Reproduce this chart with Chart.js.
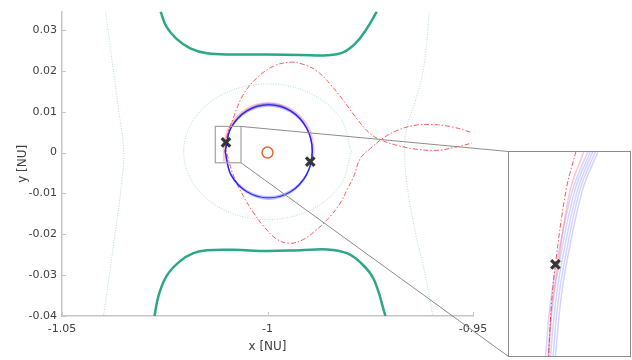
<!DOCTYPE html>
<html>
<head>
<meta charset="utf-8">
<script src="https://cdn.jsdelivr.net/npm/chart.js@4.4.1/dist/chart.umd.min.js"></script>
<style>
  html, body { margin: 0; padding: 0; background: #fff; }
  #wrap { position: relative; width: 632px; height: 360px; }
  #main { position: absolute; left: 0; top: 0; }
  #inset { position: absolute; left: 508px; top: 151px; }
</style>
</head>
<body>
<div id="wrap">
  <canvas id="main" width="632" height="360"></canvas>
  <canvas id="inset" width="123" height="206"></canvas>
</div>
<script>
// axes
const xTicks = [-1.05, -1, -0.95];
const xTickLabels = ['-1.05', '-1', '-0.95'];
const yTicks = [-0.04, -0.03, -0.02, -0.01, 0, 0.01, 0.02, 0.03];
const yTickLabels = ['-0.04', '-0.03', '-0.02', '-0.01', '0', '0.01', '0.02', '0.03'];

// zero velocity curves (thick green)
const zvcTopX = [-1.0260, -1.0246, -1.0222, -1.0188, -1.0147, -1.0083, -1.0001, -0.9920, -0.9855, -0.9816, -0.9786, -0.9760, -0.9734];
const zvcTopY = [0.0345, 0.0308, 0.0279, 0.0255, 0.0243, 0.0240, 0.0240, 0.0239, 0.0238, 0.0245, 0.0267, 0.0301, 0.0345];
const zvcBotX = [-1.0275, -1.0265, -1.0245, -1.0212, -1.0180, -1.0147, -1.0083, -1.0001, -0.9920, -0.9855, -0.9807, -0.9774, -0.9742, -0.9713];
const zvcBotY = [-0.0400, -0.0350, -0.0301, -0.0265, -0.0246, -0.0239, -0.0238, -0.0241, -0.0239, -0.0237, -0.0246, -0.0269, -0.0309, -0.0400];

// faint dotted curves
const dotLeftX = [-1.0394, -1.0378, -1.0362, -1.0350, -1.0354, -1.0375, -1.0399];
const dotLeftY = [0.0345, 0.0224, 0.0102, 0.0006, -0.0067, -0.0229, -0.0400];
const dotRightX = [-0.9606, -0.9620, -0.9640, -0.9661, -0.9666, -0.9661, -0.9640, -0.9616, -0.9598];
const dotRightY = [0.0345, 0.0207, 0.0127, 0.0062, 0.0006, -0.0075, -0.0196, -0.0301, -0.0400];
const ringX = [-0.9796, -0.9823, -0.9898, -1.0000, -1.0102, -1.0177, -1.0204, -1.0177, -1.0102, -1.0000, -0.9898, -0.9823, -0.9796];
const ringY = [0.0002, 0.0085, 0.0146, 0.0168, 0.0146, 0.0085, 0.0002, -0.0081, -0.0142, -0.0164, -0.0142, -0.0081, 0.0002];

// red transfer trajectory (dash-dot)
const redX = [-0.95066, -0.95472, -0.95959, -0.96445, -0.96849, -0.97175, -0.97499, -0.97742, -0.97905, -0.98066,
              -0.98229, -0.98472, -0.98796, -0.99122, -0.99445, -0.99769, -1.00095, -1.00338, -1.00582, -1.00783,
              -1.00922, -1.0101, -1.00825, -1.00582, -1.00255, -0.99852, -0.99445, -0.99122, -0.98796, -0.98472,
              -0.98148, -0.97822, -0.97499, -0.97255, -0.96849, -0.96363, -0.95876, -0.95472, -0.95024];
const redY = [0.00499, 0.0062, 0.00685, 0.00661, 0.0054, 0.00363, 0.00097, -0.00145, -0.00591, -0.00913,
              -0.01235, -0.01559, -0.01881, -0.02123, -0.0222, -0.02123, -0.01801, -0.01477, -0.01075, -0.00671,
              -0.00266, 0.0025, 0.00862, 0.01429, 0.0183, 0.02114, 0.02211, 0.02155, 0.01993, 0.01671,
              0.01266, 0.00823, 0.0046, 0.00315, 0.00177, 0.0008, 0.00056, 0.00121, 0.00232];

// light red arc over the orbit
const pinkX = [-1.0105, -1.0103, -1.0090, -1.0051, -0.9997, -0.9942, -0.9902, -0.9889, -0.9894];
const pinkY = [-0.0022, 0.0025, 0.0065, 0.0105, 0.0120, 0.0104, 0.0062, 0.0010, -0.0022];

// blue orbits
const orbitX = [-1.0103, -1.0089, -1.0050, -0.9997, -0.9944, -0.9905, -0.9891, -0.9905, -0.9944, -0.9997, -1.0050, -1.0089, -1.0103];
const orbitAY = [0.0003, -0.0054, -0.0096, -0.0111, -0.0096, -0.0054, 0.0003, 0.0060, 0.0102, 0.0117, 0.0102, 0.0060, 0.0003];
const orbitBY = [0.0003, -0.0056, -0.0098, -0.0114, -0.0098, -0.0056, 0.0003, 0.0062, 0.0104, 0.0120, 0.0104, 0.0062, 0.0003];
const orbitCY = [0.0003, -0.0053, -0.0093, -0.0108, -0.0093, -0.0053, 0.0003, 0.0059, 0.0099, 0.0114, 0.0099, 0.0059, 0.0003];

// body and patch points
const moonX = [-1.0];
const moonY = [0.0];
const markX = [-1.0101, -0.9896];
const markY = [0.0025, -0.0022];

// zoom window
const boxX = [-1.0127, -1.00645];
const boxY = [-0.0025, 0.0064];

// inset
const insetXLim = [-1.0128, -1.0066];
const insetYLim = [-0.0022, 0.0082];
const insetMarkX = [-1.01041];
const insetMarkY = [0.00248];
const insetRows = [0.0082, 0.00625, 0.00248, 0.00031, -0.0022];
const insetRedX = [-1.00937, -1.00987, -1.01041, -1.01062, -1.01076];
const insetPinkX = [-1.00896, -1.00966, -1.01028, -1.01060, -1.01074];
const insetBlue1X = [-1.00876, -1.00954, -1.01036, -1.01069, -1.01091];
const insetBlue2X = [-1.00863, -1.00942, -1.01023, -1.01056, -1.01079];
const insetBlue3X = [-1.00851, -1.00929, -1.01011, -1.01043, -1.01066];
const insetBlue4X = [-1.00838, -1.00917, -1.00998, -1.01031, -1.01053];
const insetBlue5X = [-1.00825, -1.00904, -1.00986, -1.01018, -1.01041];

const pts = (xs, ys) => xs.map((x, i) => ({x: x, y: ys[i]}));

Chart.defaults.font.family = "'DejaVu Sans', Arial, sans-serif";

const RED = 'rgba(255,0,0,0.65)';
const PINK = 'rgba(255,70,70,0.3)';
const BLUE = 'rgba(0,0,255,0.78)';
const BLUE_FAINT = 'rgba(40,40,255,0.3)';
const LIGHTBLUE = 'rgba(60,60,255,0.22)';
const GREEN = '#2ba888';
const FAINT = 'rgba(50,175,145,0.4)';
const AXIS = '#c6c6c6';
const TEXT = '#404040';

function curve(data, color, width, extra) {
    return Object.assign({
        data: data,
        showLine: true,
        borderColor: color,
        borderWidth: width,
        pointRadius: 0,
        tension: 0.35,
        fill: false,
        clip: 0
    }, extra || {});
}

const zoomGuide = {
    id: 'zoomGuide',
    afterDatasetsDraw(chart) {
        const {ctx, scales: {x, y}} = chart;
        const x0 = x.getPixelForValue(boxX[0]);
        const x1 = x.getPixelForValue(boxX[1]);
        const yTop = y.getPixelForValue(boxY[1]);
        const yBot = y.getPixelForValue(boxY[0]);
        const inset = document.getElementById('inset');
        const ix = inset.offsetLeft + 0.5;
        const iTop = inset.offsetTop + 0.5;
        const iBot = inset.offsetTop + inset.height - 0.5;

        ctx.save();
        ctx.strokeStyle = '#a2a2a2';
        ctx.lineWidth = 1.2;
        ctx.strokeRect(x0, yTop, x1 - x0, yBot - yTop);
        ctx.strokeStyle = '#8c8c8c';
        ctx.lineWidth = 1;
        ctx.beginPath();
        ctx.moveTo(x1, yTop);
        ctx.lineTo(ix, iTop);
        ctx.moveTo(x1, yBot);
        ctx.lineTo(ix, iBot);
        ctx.stroke();
        ctx.restore();
    },
    afterDraw(chart) {
        // MATLAB style inward ticks
        const {ctx, chartArea, scales: {x, y}} = chart;
        ctx.save();
        ctx.strokeStyle = AXIS;
        ctx.lineWidth = 1;
        ctx.beginPath();
        xTicks.forEach(v => {
            const px = Math.round(x.getPixelForValue(v)) + 0.5;
            ctx.moveTo(px, chartArea.bottom);
            ctx.lineTo(px, chartArea.bottom - 4);
        });
        yTicks.forEach(v => {
            const py = Math.round(y.getPixelForValue(v)) + 0.5;
            ctx.moveTo(chartArea.left, py);
            ctx.lineTo(chartArea.left + 4, py);
        });
        ctx.stroke();
        ctx.restore();
    }
};

new Chart(document.getElementById('main'), {
    type: 'scatter',
    data: {
        datasets: [
            {
                data: pts(markX, markY),
                pointStyle: 'crossRot',
                pointRadius: 6,
                borderWidth: 3.2,
                borderColor: '#353535',
                backgroundColor: '#353535',
                clip: 0
            },
            {
                data: pts(moonX, moonY),
                pointStyle: 'circle',
                pointRadius: 5.5,
                borderWidth: 1.5,
                borderColor: '#e2672f',
                backgroundColor: 'rgba(0,0,0,0)',
                clip: 0
            },
            curve(pts(orbitX, orbitAY), BLUE, 1.3),
            curve(pts(orbitX, orbitBY), BLUE_FAINT, 1.5),
            curve(pts(orbitX, orbitCY), BLUE_FAINT, 1.5),
            curve(pts(redX, redY), RED, 1, {borderDash: [5, 2, 1.5, 2], tension: 0.4}),
            curve(pts(pinkX, pinkY), PINK, 3),
            curve(pts(ringX, ringY), FAINT, 1, {borderDash: [1, 1.5]}),
            curve(pts(dotLeftX, dotLeftY), FAINT, 1, {borderDash: [1, 1.5], tension: 0.4}),
            curve(pts(dotRightX, dotRightY), FAINT, 1, {borderDash: [1, 1.5], tension: 0.4}),
            curve(pts(zvcTopX, zvcTopY), GREEN, 2.5, {tension: 0.4}),
            curve(pts(zvcBotX, zvcBotY), GREEN, 2.5, {tension: 0.4})
        ]
    },
    options: {
        responsive: false,
        animation: false,
        devicePixelRatio: 1,
        layout: {autoPadding: false, padding: {left: 0, right: 159, top: 10, bottom: 0}},
        plugins: {legend: {display: false}, tooltip: {enabled: false}},
        scales: {
            x: {
                type: 'linear',
                min: -1.05,
                max: -0.95,
                afterBuildTicks: s => { s.ticks = xTicks.map(v => ({value: v})); },
                afterFit: s => { s.height = 44; },
                grid: {display: false, drawTicks: false},
                border: {display: true, color: AXIS, width: 1.5},
                ticks: {
                    padding: 7,
                    color: TEXT,
                    font: {size: 11},
                    maxRotation: 0,
                    callback: (v, i) => xTickLabels[i]
                },
                title: {display: true, text: 'x [NU]', color: TEXT, font: {size: 12}, padding: {top: 0, bottom: 5.5}}
            },
            y: {
                type: 'linear',
                min: -0.04,
                max: 0.0345,
                afterBuildTicks: s => { s.ticks = yTicks.map(v => ({value: v})); },
                afterFit: s => { s.width = 62; },
                grid: {display: false, drawTicks: false},
                border: {display: true, color: AXIS, width: 1.5},
                ticks: {
                    padding: 5,
                    color: TEXT,
                    font: {size: 11},
                    callback: (v, i) => yTickLabels[i]
                },
                title: {display: true, text: 'y [NU]', color: TEXT, font: {size: 12}, padding: {top: 15.5, bottom: 0}}
            }
        }
    },
    plugins: [zoomGuide]
});

const insetFrame = {
    id: 'insetFrame',
    afterDraw(chart) {
        const {ctx, chartArea} = chart;
        ctx.save();
        ctx.strokeStyle = '#8c8c8c';
        ctx.lineWidth = 1;
        ctx.strokeRect(chartArea.left + 0.5, chartArea.top + 0.5,
            chartArea.right - chartArea.left - 1, chartArea.bottom - chartArea.top - 1);
        ctx.restore();
    }
};

new Chart(document.getElementById('inset'), {
    type: 'scatter',
    data: {
        datasets: [
            {
                data: pts(insetMarkX, insetMarkY),
                pointStyle: 'crossRot',
                pointRadius: 6,
                borderWidth: 3.2,
                borderColor: '#353535',
                clip: 0
            },
            curve(pts(insetRedX, insetRows), RED, 1, {borderDash: [5, 2, 1.5, 2]}),
            curve(pts(insetPinkX, insetRows), PINK, 1.5),
            curve(pts(insetBlue1X, insetRows), LIGHTBLUE, 1.5),
            curve(pts(insetBlue2X, insetRows), LIGHTBLUE, 1.5),
            curve(pts(insetBlue3X, insetRows), LIGHTBLUE, 1.5),
            curve(pts(insetBlue4X, insetRows), LIGHTBLUE, 1.5),
            curve(pts(insetBlue5X, insetRows), LIGHTBLUE, 1.5)
        ]
    },
    options: {
        responsive: false,
        animation: false,
        devicePixelRatio: 1,
        layout: {autoPadding: false, padding: 0},
        plugins: {legend: {display: false}, tooltip: {enabled: false}},
        scales: {
            x: {type: 'linear', display: false, min: insetXLim[0], max: insetXLim[1]},
            y: {type: 'linear', display: false, min: insetYLim[0], max: insetYLim[1]}
        }
    },
    plugins: [insetFrame]
});
</script>
</body>
</html>
